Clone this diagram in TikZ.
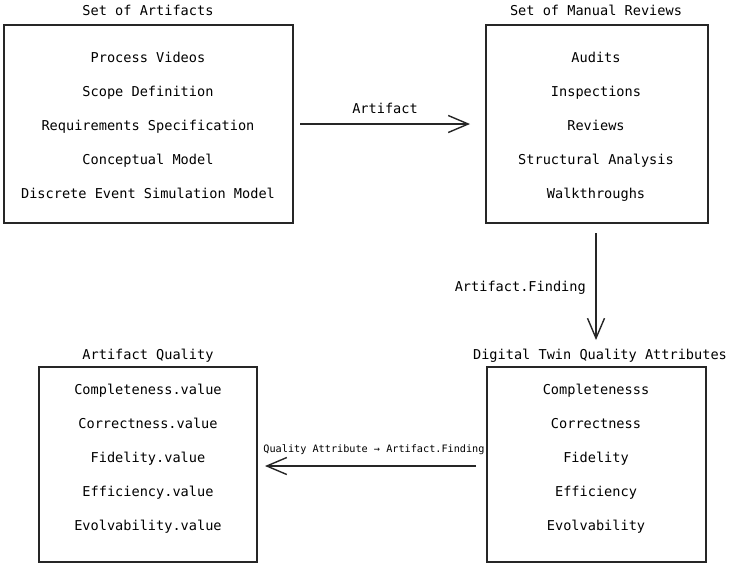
\documentclass[tikz,border=0pt]{standalone}
\usepackage{fontspec}
\setmonofont{DejaVu Sans Mono}
\usetikzlibrary{arrows.meta}
\begin{document}
\begin{tikzpicture}[x=1pt,y=-1pt,
  every node/.style={font=\ttfamily\fontsize{13.6}{16}\selectfont, inner sep=0pt,
    text height=10pt, text depth=0pt},
  panel/.style={draw=black!85, line width=1.4pt},
  title/.style={anchor=center},
  item/.style={anchor=center},
  flow/.style={draw=black!85, line width=1.4pt, -{Straight Barb[length=20pt,width=17pt,line width=1.4pt]}},
  flowlabel/.style={font=\ttfamily\fontsize{13.6}{16}\selectfont},
  smalllabel/.style={font=\ttfamily\fontsize{10.2}{12}\selectfont, text height=7.5pt}]
\useasboundingbox (0,0) rectangle (730,566);

% Set of Artifacts
\node[title] (t1) at (148,10) {Set of Artifacts};
\draw[panel] (4,25) rectangle (293,223);
\node (artifacts) at (148.5,124) [minimum width=289pt, minimum height=198pt, text height=, text depth=] {};
\node[item] at (148,57) {Process Videos};
\node[item] at (148,91) {Scope Definition};
\node[item] at (148,125) {Requirements Specification};
\node[item] at (148,159) {Conceptual Model};
\node[item] at (148,193) {Discrete Event Simulation Model};

% Set of Manual Reviews
\node[title] (t2) at (596,10) {Set of Manual Reviews};
\draw[panel] (486,25) rectangle (708,223);
\node (reviews) at (597,124) [minimum width=222pt, minimum height=198pt, text height=, text depth=] {};
\node[item] at (596,57) {Audits};
\node[item] at (596,91) {Inspections};
\node[item] at (596,125) {Reviews};
\node[item] at (596,159) {Structural Analysis};
\node[item] at (596,193) {Walkthroughs};

% Artifact Quality
\node[title] (t3) at (148,354) {Artifact Quality};
\draw[panel] (39,367) rectangle (257,562);
\node (quality) at (148,464.5) [minimum width=218pt, minimum height=195pt, text height=, text depth=] {};
\node[item] at (148,389) {Completeness.value};
\node[item] at (148,423) {Correctness.value};
\node[item] at (148,457) {Fidelity.value};
\node[item] at (148,491) {Efficiency.value};
\node[item] at (148,525) {Evolvability.value};

% Digital Twin Quality Attributes
\node[title] (t4) at (600,354) {Digital Twin Quality Attributes};
\draw[panel] (487,367) rectangle (706,562);
\node (attrs) at (596.5,464.5) [minimum width=219pt, minimum height=195pt, text height=, text depth=] {};
\node[item] at (596,389) {Completenesss};
\node[item] at (596,423) {Correctness};
\node[item] at (596,457) {Fidelity};
\node[item] at (596,491) {Efficiency};
\node[item] at (596,525) {Evolvability};

% Connectors
\coordinate (a1) at (300,124);
\coordinate (a2) at (470,124);
\draw[flow] (a1) -- (a2);
\node[flowlabel] (l1) at (385,108) {Artifact};

\coordinate (b1) at (596,233);
\coordinate (b2) at (596,340);
\draw[flow] (b1) -- (b2);
\node[flowlabel, anchor=east] (l2) at (586,286) {Artifact.Finding};

\coordinate (c1) at (476,466);
\coordinate (c2) at (265,466);
\draw[flow] (c1) -- (c2);
\node[smalllabel] (l3) at (374,449) {Quality Attribute → Artifact.Finding};
\end{tikzpicture}
\end{document}
